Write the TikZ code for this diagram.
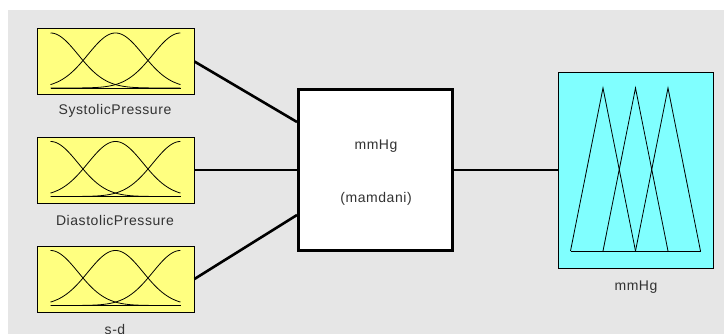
\documentclass[tikz,border=0pt]{standalone}
\usepackage{fontspec}
\setmainfont{Liberation Sans}[LetterSpace=4]
\usetikzlibrary{calc}
\definecolor{bg}{RGB}{230,230,230}
\definecolor{inyel}{RGB}{255,255,128}
\definecolor{outcy}{RGB}{128,255,255}
\definecolor{txt}{RGB}{50,50,50}
\begin{document}
\begin{tikzpicture}[x=1pt,y=-1pt,
  inbox/.style={draw=black, fill=inyel, minimum width=157pt, minimum height=66pt, inner sep=0pt, line width=0.9pt},
  outbox/.style={draw=black, fill=outcy, minimum width=155pt, minimum height=196pt, inner sep=0pt, line width=0.9pt},
  rulebox/.style={draw=black, fill=white, minimum width=154pt, minimum height=161pt, inner sep=0pt, line width=3pt},
  lbl/.style={text=txt, font=\fontsize{14}{16}\selectfont, inner sep=0pt},
  mf/.style={black, line width=0.8pt},
  conn/.style={black, line width=2.6pt}]
\useasboundingbox (0,0) rectangle (724,334);
\fill[bg] (8,10) rectangle (724,334);
% input boxes
\node[inbox] (in1) at (115.5,61.5) {};
\node[inbox] (in2) at (115.5,170) {};
\node[inbox] (in3) at (115.5,279) {};
\node[lbl] (l1) at (115,111) {SystolicPressure};
\node[lbl] (l2) at (115,220) {DiastolicPressure};
\node[lbl] (l3) at (115,329) {s-d};
\foreach \n in {in1,in2,in3} {
  \begin{scope}[shift={(\n.center)}]
    \draw[mf] plot[domain=0:1,samples=90] ({-65+130*\x},{26.5-55*exp(-0.5*(\x/0.2123)*(\x/0.2123))});
    \draw[mf] plot[domain=0:1,samples=90] ({-65+130*\x},{26.5-55*exp(-0.5*((\x-0.5)/0.2123)*((\x-0.5)/0.2123))});
    \draw[mf] plot[domain=0:1,samples=90] ({-65+130*\x},{26.5-55*exp(-0.5*((\x-1)/0.2123)*((\x-1)/0.2123))});
    \draw[mf] (-65,26.5) -- (65,26.5);
  \end{scope}
}
% rule box
\node[rulebox] (mid) at (375.5,170) {};
\node[lbl] (t1) at (376,146) {mmHg};
\node[lbl] (t2) at (376,199) {(mamdani)};
% output box
\node[outbox] (out) at (635.5,170) {};
\node[lbl] (l4) at (636,287) {mmHg};
\begin{scope}[shift={(out.center)}]
  \draw[mf] (-65,81) -- (-32.5,-82) -- (0,81);
  \draw[mf] (-32.5,81) -- (0,-82) -- (32.5,81);
  \draw[mf] (0,81) -- (32.5,-82) -- (65,81);
  \draw[mf] (-65,81) -- (65,81);
\end{scope}
% connectors
\draw[conn] (in1.east) -- ($(mid.west)+(0,-48)$);
\draw[conn] (in2) -- (mid);
\draw[conn] (in3.east) -- ($(mid.west)+(0,45)$);
\draw[conn] (mid) -- (out);
\end{tikzpicture}
\end{document}
